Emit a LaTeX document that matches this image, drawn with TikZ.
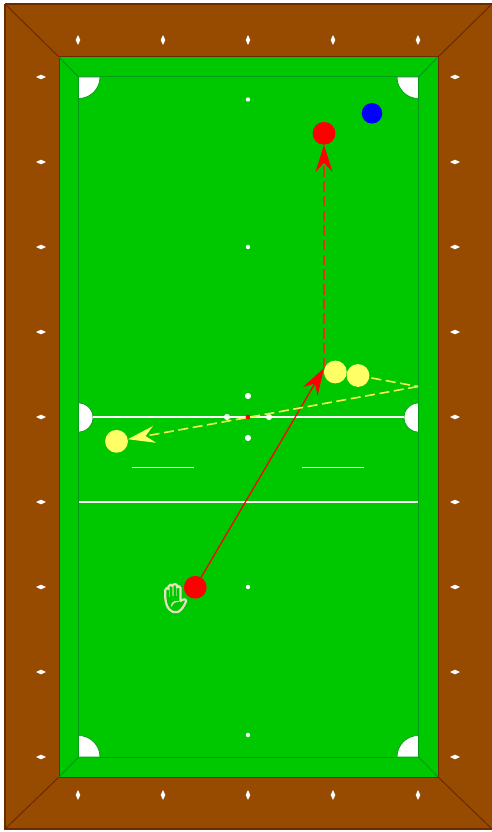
\documentclass[tikz,border=0pt]{standalone}
\usetikzlibrary{arrows.meta}
\definecolor{wood}{HTML}{964B00}
\definecolor{woodline}{HTML}{6B2A00}
\definecolor{felt}{HTML}{00C800}
\definecolor{feltline}{HTML}{009A14}
\definecolor{ballred}{HTML}{FF0000}
\definecolor{ballblue}{HTML}{0000FF}
\definecolor{ballyellow}{HTML}{FFFF66}
\definecolor{handc}{HTML}{E8E0BC}
\definecolor{shotyellow}{HTML}{F4F44C}
\definecolor{shotred}{HTML}{D83A10}
\tikzset{
  ball/.style={circle,inner sep=0pt,minimum size=22.8pt,fill=#1},
  pocket/.style={fill=white,draw=feltline,line width=.7pt},
  spot/.style={fill=white},
  tablemark/.style={white,line width=1.3pt},
  sight/.style={fill=white},
  redshot/.style={draw=red,line width=1.3pt,-{Stealth[length=27pt,width=17pt,inset=9pt,line width=0pt]}},
  reddash/.style={draw=shotred,line width=2pt,dash pattern=on 10.5pt off 4.2pt,-{Stealth[length=27pt,width=17pt,inset=9pt,line width=0pt,red]}},
  yellowdash/.style={draw=shotyellow,line width=1.6pt,dash pattern=on 10pt off 4.6pt},
  yellowtip/.style={yellowdash,-{Stealth[length=27pt,width=17pt,inset=9pt,line width=0pt,ballyellow]}},
  handline/.style={draw=handc,line width=2.2pt,line join=round,line cap=round}
}
\begin{document}
\begin{tikzpicture}[x=1pt,y=-1pt]
\useasboundingbox (0,0) rectangle (491,832);
% rails
\fill[wood] (5,4) rectangle (492,829);
\draw[woodline,line width=1.5pt] (5,4) -- (492,4) (5,4) -- (5,829) -- (492,829);
\draw[woodline,line width=1pt] (5,4) -- (59,57) (492,4) -- (438,57) (5,829) -- (59,777) (492,829) -- (438,777);
% cushions
\fill[felt] (59,57) rectangle (438,777);
\draw[woodline,line width=1pt] (59,57) rectangle (438,777);
\draw[feltline,line width=1pt] (78.5,77) rectangle (418.5,757);
\draw[feltline,line width=1pt] (59,57) -- (78.5,77) (438,57) -- (418.5,77) (59,777) -- (78.5,757) (438,777) -- (418.5,757);
% pockets
\draw[pocket] (78.5,77) -- (100,77) arc[start angle=0,end angle=90,radius=21.5] -- cycle;
\draw[pocket] (418.5,77) -- (397,77) arc[start angle=180,end angle=90,radius=21.5] -- cycle;
\draw[pocket] (78.5,757) -- (100,757) arc[start angle=0,end angle=-90,radius=21.5] -- cycle;
\draw[pocket] (418.5,757) -- (397,757) arc[start angle=180,end angle=270,radius=21.5] -- cycle;
\draw[pocket] (78.5,403) arc[start angle=-90,end angle=90,radius=14.5] -- cycle;
\draw[pocket] (418.5,403) arc[start angle=270,end angle=90,radius=14.5] -- cycle;
% table lines
\draw[tablemark] (92.5,417) -- (404,417);
\draw[tablemark] (79,502) -- (418,502);
\draw[tablemark] (132,467.7) -- (194,467.7);
\draw[tablemark] (302,467.7) -- (364,467.7);
% spots
\foreach \yy in {99.5,247,587,735} \fill[spot] (248,\yy) circle[radius=2.2];
\foreach \px/\py in {248/396,248/438,227/417,269/417} \fill[spot] (\px,\py) circle[radius=3.1];
\fill[red] (248,417) circle[radius=2.5];
% sights
\foreach \px in {78,163,248,333,418} {
  \fill[sight] (\px,35) -- (\px+2.3,40) -- (\px,45) -- (\px-2.3,40) -- cycle;
  \fill[sight] (\px,790) -- (\px+2.3,795) -- (\px,800) -- (\px-2.3,795) -- cycle;
}
\foreach \py in {77,162,247,332,417,502,587,672,757} {
  \fill[sight] (36,\py) -- (41,\py-2.3) -- (46,\py) -- (41,\py+2.3) -- cycle;
  \fill[sight] (450,\py) -- (455,\py-2.3) -- (460,\py) -- (455,\py+2.3) -- cycle;
}
% balls
\node[ball=ballred] (cue) at (195.3,587.3) {};
\node[ball=ballred] (target) at (324,133.3) {};
\node[ball=ballblue,minimum size=20.6pt] (blue) at (372,113.3) {};
\node[ball=ballyellow] (yone) at (335.3,372) {};
\node[ball=ballyellow] (ytwo) at (358,375.5) {};
\node[ball=ballyellow] (ythree) at (116.5,441.3) {};
\coordinate (contact) at (324,368);
\coordinate (bank) at (418,386.5);
% shots
\draw[reddash] (contact) -- (target);
\draw[redshot] (cue) -- (contact);
\draw[yellowdash,shorten <=2pt] (ytwo) -- (bank);
\draw[yellowtip] (bank) -- (ythree);
% hand
\draw[handline,fill=felt]
  (173,612) .. controls (168,610) and (165.5,604) .. (165.3,598)
  -- (165.3,590) .. controls (165.3,587.5) and (168,587.5) .. (168.5,589)
  -- (168.5,586.5) .. controls (169,584) and (172,584) .. (172.5,586)
  .. controls (173,583.5) and (177,583.5) .. (177,586)
  -- (177,587.5) .. controls (177.5,585.5) and (180.5,585.5) .. (180.5,588)
  -- (180.5,601) .. controls (182,599) and (186,598.5) .. (186.2,601)
  .. controls (184.5,605) and (182,610) .. (178,612) -- cycle;
\draw[draw=handc!55!felt,line width=1.2pt] (169.5,589) -- (169.5,597) (173,587) -- (173,596) (176.8,588) -- (176.8,596);
\draw[handline,line width=1.4pt] (171.5,606) .. controls (172,602.5) and (175,601) .. (178.5,601.5);
\end{tikzpicture}
\end{document}
